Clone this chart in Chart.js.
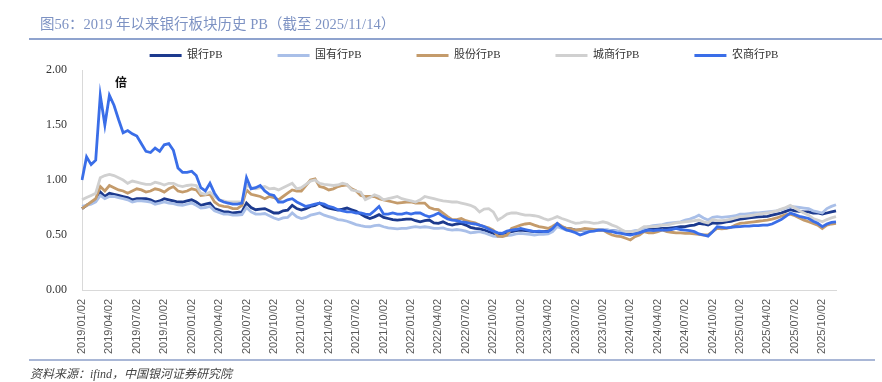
<!DOCTYPE html>
<html>
<head>
<meta charset="utf-8">
<script src="https://cdn.jsdelivr.net/npm/chart.js@4/dist/chart.umd.min.js"></script>
<style>
  html, body { margin: 0; padding: 0; background: #fff; }
  #wrap { position: relative; width: 882px; height: 382px; overflow: hidden; }
  #c { position: absolute; left: 0; top: 0; }
  .title { position: absolute; left: 40px; top: 12px; font-family: "Liberation Serif", "Noto Sans CJK SC", serif; font-size: 14.5px; color: #7D92C3; white-space: nowrap; }
  .rule { position: absolute; left: 29px; height: 2px; background: #8FA3CE; }
  .unit { position: absolute; left: 115px; top: 73px; font-family: "Noto Sans CJK SC", serif; font-weight: bold; font-size: 12px; color: #111; }
  .source { position: absolute; left: 30px; top: 364px; font-family: "Liberation Serif", "Noto Sans CJK SC", serif; font-style: italic; font-size: 12px; color: #444; white-space: nowrap; }
</style>
</head>
<body>
<div id="wrap">
  <canvas id="c" width="882" height="382"></canvas>
  <div class="title">图56：2019 年以来银行板块历史 PB（截至 2025/11/14）</div>
  <div class="rule" style="top:38px; width:853px;"></div>
  <div class="rule" style="top:359px; width:846px; background:#A9B7D6;"></div>
  <div class="unit">倍</div>
  <div class="source">资料来源：ifind，中国银河证券研究院</div>
</div>
<script>
// Categories: half-monthly dates from 2019/01/02 to 2025/11/14
const categories = [];
for (let y = 2019; y <= 2025; y++) {
  for (let m = 1; m <= 12; m++) {
    if (y === 2025 && m > 10) break;
    const mm = String(m).padStart(2, '0');
    categories.push(y + '/' + mm + '/02');
    categories.push(y + '/' + mm + '/16');
  }
}
categories.push('2025/11/02');
categories.push('2025/11/14');

const tickLabels = [
  '2019/01/02','2019/04/02','2019/07/02','2019/10/02',
  '2020/01/02','2020/04/02','2020/07/02','2020/10/02',
  '2021/01/02','2021/04/02','2021/07/02','2021/10/02',
  '2022/01/02','2022/04/02','2022/07/02','2022/10/02',
  '2023/01/02','2023/04/02','2023/07/02','2023/10/02',
  '2024/01/02','2024/04/02','2024/07/02','2024/10/02',
  '2025/01/02','2025/04/02','2025/07/02','2025/10/02'
];

const seriesNames = ['银行PB', '国有行PB', '股份行PB', '城商行PB', '农商行PB'];

const bankPB = [
  0.74, 0.77, 0.79, 0.82, 0.89, 0.85, 0.88, 0.87, 0.86, 0.85,
  0.84, 0.82, 0.83, 0.83, 0.83, 0.82, 0.80, 0.81, 0.83, 0.82,
  0.81, 0.80, 0.80, 0.81, 0.82, 0.80, 0.77, 0.78, 0.79, 0.74,
  0.727, 0.71, 0.71, 0.70, 0.705, 0.71, 0.79, 0.75, 0.73, 0.735,
  0.74, 0.72, 0.70, 0.70, 0.72, 0.725, 0.77, 0.74, 0.727, 0.74,
  0.76, 0.77, 0.79, 0.76, 0.745, 0.735, 0.727, 0.735, 0.745, 0.73,
  0.715, 0.69, 0.667, 0.65, 0.665, 0.685, 0.66, 0.65, 0.64, 0.636,
  0.64, 0.645, 0.645, 0.63, 0.62, 0.63, 0.636, 0.61, 0.606, 0.62,
  0.60, 0.59, 0.60, 0.606, 0.59, 0.57, 0.56, 0.555, 0.545, 0.53,
  0.515, 0.50, 0.505, 0.52, 0.53, 0.54, 0.545, 0.54, 0.535, 0.53,
  0.53, 0.53, 0.535, 0.55, 0.59, 0.57, 0.56, 0.555, 0.545, 0.545,
  0.545, 0.545, 0.545, 0.545, 0.545, 0.545, 0.54, 0.535, 0.53, 0.52,
  0.515, 0.525, 0.53, 0.545, 0.56, 0.55, 0.555, 0.56, 0.56, 0.565,
  0.57, 0.575, 0.576, 0.585, 0.59, 0.606, 0.60, 0.59, 0.61, 0.605,
  0.61, 0.62, 0.625, 0.635, 0.645, 0.65, 0.655, 0.66, 0.665, 0.667,
  0.67, 0.68, 0.69, 0.70, 0.715, 0.73, 0.72, 0.715, 0.71, 0.71,
  0.70, 0.70, 0.69, 0.70, 0.71, 0.72
];

const stateOwnedPB = [
  0.76, 0.77, 0.78, 0.80, 0.86, 0.83, 0.85, 0.85, 0.84, 0.83,
  0.82, 0.80, 0.81, 0.81, 0.805, 0.80, 0.78, 0.79, 0.80, 0.79,
  0.785, 0.775, 0.77, 0.78, 0.79, 0.77, 0.745, 0.75, 0.76, 0.72,
  0.705, 0.69, 0.69, 0.68, 0.68, 0.685, 0.75, 0.71, 0.69, 0.69,
  0.695, 0.675, 0.655, 0.64, 0.655, 0.66, 0.70, 0.665, 0.65, 0.66,
  0.68, 0.69, 0.70, 0.68, 0.667, 0.655, 0.64, 0.635, 0.625, 0.61,
  0.595, 0.585, 0.576, 0.575, 0.585, 0.59, 0.575, 0.565, 0.56, 0.555,
  0.56, 0.56, 0.57, 0.576, 0.57, 0.575, 0.57, 0.56, 0.56, 0.565,
  0.55, 0.545, 0.55, 0.545, 0.535, 0.52, 0.525, 0.53, 0.52, 0.505,
  0.49, 0.485, 0.49, 0.495, 0.50, 0.51, 0.515, 0.51, 0.505, 0.50,
  0.505, 0.505, 0.51, 0.53, 0.576, 0.56, 0.545, 0.545, 0.54, 0.545,
  0.545, 0.545, 0.545, 0.55, 0.545, 0.545, 0.54, 0.535, 0.53, 0.53,
  0.53, 0.54, 0.545, 0.56, 0.576, 0.585, 0.59, 0.595, 0.605, 0.61,
  0.615, 0.62, 0.636, 0.645, 0.66, 0.68, 0.655, 0.636, 0.66, 0.667,
  0.66, 0.665, 0.67, 0.675, 0.69, 0.69, 0.695, 0.70, 0.70, 0.705,
  0.71, 0.715, 0.72, 0.73, 0.745, 0.76, 0.755, 0.75, 0.745, 0.74,
  0.72, 0.71, 0.70, 0.74, 0.76, 0.775
];

const jointStockPB = [
  0.74, 0.77, 0.80, 0.83, 0.94, 0.90, 0.95, 0.93, 0.91, 0.90,
  0.88, 0.90, 0.92, 0.91, 0.89, 0.90, 0.92, 0.91, 0.89, 0.92,
  0.94, 0.90, 0.89, 0.90, 0.92, 0.91, 0.86, 0.865, 0.87, 0.80,
  0.77, 0.76, 0.755, 0.74, 0.74, 0.77, 0.91, 0.87, 0.86, 0.85,
  0.83, 0.85, 0.84, 0.82, 0.85, 0.88, 0.91, 0.90, 0.90, 0.95,
  1.00, 1.01, 0.94, 0.93, 0.91, 0.92, 0.94, 0.95, 0.955, 0.92,
  0.90, 0.86, 0.85, 0.85, 0.85, 0.83, 0.82, 0.81, 0.80, 0.79,
  0.795, 0.80, 0.80, 0.79, 0.79, 0.79, 0.75, 0.735, 0.73, 0.70,
  0.667, 0.64, 0.64, 0.65, 0.63, 0.62, 0.61, 0.59, 0.576, 0.565,
  0.545, 0.49, 0.485, 0.50, 0.56, 0.575, 0.59, 0.60, 0.606, 0.59,
  0.576, 0.57, 0.56, 0.58, 0.606, 0.58, 0.56, 0.555, 0.545, 0.55,
  0.56, 0.555, 0.55, 0.545, 0.545, 0.52, 0.50, 0.49, 0.485, 0.47,
  0.455, 0.485, 0.50, 0.53, 0.52, 0.52, 0.53, 0.545, 0.53, 0.525,
  0.52, 0.52, 0.515, 0.515, 0.51, 0.505, 0.50, 0.50, 0.53, 0.56,
  0.555, 0.56, 0.57, 0.59, 0.606, 0.61, 0.615, 0.62, 0.625, 0.63,
  0.636, 0.645, 0.655, 0.67, 0.685, 0.69, 0.675, 0.655, 0.635, 0.62,
  0.605, 0.59, 0.56, 0.59, 0.60, 0.606
];

const cityPB = [
  0.82, 0.84, 0.86, 0.88, 1.02, 1.04, 1.05, 1.04, 1.02, 1.00,
  0.97, 0.99, 0.98, 0.97, 0.96, 0.96, 0.98, 0.97, 0.955, 0.97,
  0.97, 0.95, 0.94, 0.95, 0.955, 0.95, 0.88, 0.87, 0.89, 0.85,
  0.82, 0.81, 0.80, 0.80, 0.80, 0.80, 0.955, 0.93, 0.92, 0.93,
  0.94, 0.92, 0.925, 0.91, 0.93, 0.95, 0.97, 0.92, 0.93, 0.96,
  0.99, 1.00, 0.97, 0.96, 0.955, 0.95, 0.955, 0.97, 0.96, 0.91,
  0.90, 0.89, 0.82, 0.84, 0.865, 0.85, 0.82, 0.83, 0.84, 0.85,
  0.83, 0.82, 0.81, 0.80, 0.82, 0.85, 0.84, 0.83, 0.82, 0.81,
  0.805, 0.80, 0.80, 0.79, 0.78, 0.77, 0.75, 0.71, 0.735, 0.74,
  0.71, 0.636, 0.66, 0.69, 0.70, 0.70, 0.69, 0.68, 0.68, 0.675,
  0.667, 0.65, 0.636, 0.65, 0.667, 0.65, 0.636, 0.62, 0.606, 0.61,
  0.62, 0.615, 0.606, 0.61, 0.62, 0.61, 0.59, 0.575, 0.55, 0.53,
  0.53, 0.53, 0.55, 0.576, 0.575, 0.576, 0.58, 0.59, 0.59, 0.60,
  0.61, 0.615, 0.62, 0.625, 0.63, 0.636, 0.62, 0.61, 0.64, 0.63,
  0.63, 0.635, 0.645, 0.655, 0.667, 0.67, 0.675, 0.68, 0.69, 0.695,
  0.70, 0.71, 0.72, 0.735, 0.75, 0.77, 0.745, 0.72, 0.70, 0.68,
  0.65, 0.636, 0.62, 0.64, 0.655, 0.667
];

const ruralPB = [
  1.00, 1.21, 1.14, 1.18, 1.77, 1.50, 1.77, 1.68, 1.55, 1.43,
  1.45, 1.42, 1.40, 1.33, 1.26, 1.25, 1.29, 1.26, 1.32, 1.33,
  1.27, 1.11, 1.07, 1.07, 1.08, 1.04, 0.93, 0.90, 0.97, 0.88,
  0.82, 0.80, 0.79, 0.78, 0.78, 0.79, 1.02, 0.92, 0.93, 0.95,
  0.90, 0.87, 0.86, 0.80, 0.80, 0.82, 0.83, 0.80, 0.78, 0.76,
  0.77, 0.78, 0.79, 0.78, 0.76, 0.75, 0.73, 0.72, 0.71, 0.71,
  0.70, 0.70, 0.69, 0.685, 0.72, 0.76, 0.69, 0.69, 0.70, 0.69,
  0.69, 0.70, 0.69, 0.70, 0.70, 0.68, 0.665, 0.68, 0.70, 0.67,
  0.645, 0.635, 0.63, 0.62, 0.615, 0.606, 0.60, 0.59, 0.576, 0.555,
  0.535, 0.52, 0.515, 0.535, 0.545, 0.55, 0.56, 0.55, 0.54, 0.53,
  0.535, 0.53, 0.53, 0.56, 0.606, 0.57, 0.545, 0.535, 0.52, 0.50,
  0.515, 0.53, 0.535, 0.545, 0.545, 0.535, 0.53, 0.52, 0.515, 0.505,
  0.50, 0.51, 0.52, 0.535, 0.545, 0.54, 0.545, 0.545, 0.545, 0.55,
  0.56, 0.55, 0.545, 0.54, 0.53, 0.51, 0.50, 0.49, 0.53, 0.575,
  0.57, 0.565, 0.57, 0.575, 0.576, 0.58, 0.58, 0.585, 0.585, 0.59,
  0.59, 0.60, 0.62, 0.64, 0.67, 0.70, 0.685, 0.67, 0.66, 0.65,
  0.625, 0.606, 0.576, 0.60, 0.615, 0.62
];

const yTicks = [0, 0.5, 1.0, 1.5, 2.0];

const colors = ['#1C3A8E', '#A9BFE8', '#C49B6B', '#D0D0D0', '#3A6EE8'];
const seriesData = [bankPB, stateOwnedPB, jointStockPB, cityPB, ruralPB];
const drawOrder = [5, 4, 3, 2, 1];

const datasets = seriesNames.map((name, k) => ({
  label: name,
  data: seriesData[k],
  borderColor: colors[k],
  backgroundColor: colors[k],
  borderWidth: 2.8,
  pointRadius: 0,
  pointHoverRadius: 0,
  tension: 0,
  order: drawOrder[k]
}));

const layoutTweak = {
  id: 'layoutTweak',
  beforeInit(chart) {
    const origFit = chart.legend.fit;
    chart.legend.fit = function () {
      origFit.bind(chart.legend)();
      this.height = 70;
    };
  },
  afterLayout(chart) {
    const lg = chart.legend;
    const dx = 46, dy = -5;
    lg.left += dx; lg.right += dx;
    lg.top += dy; lg.bottom += dy;
  }
};

new Chart(document.getElementById('c'), {
  type: 'line',
  data: { labels: categories, datasets },
  options: {
    responsive: false,
    devicePixelRatio: 1,
    animation: false,
    layout: { padding: { left: 0, right: 46, top: 0, bottom: 0 } },
    plugins: {
      tooltip: { enabled: false },
      legend: {
        display: true,
        position: 'top',
        align: 'center',
        labels: {
          boxWidth: 32,
          boxHeight: 3,
          padding: 55,
          color: '#333',
          font: { family: '"Liberation Serif", "Noto Sans CJK SC", serif', size: 11 },
          sort: (a, b) => a.datasetIndex - b.datasetIndex,
          generateLabels(chart) {
            const items = Chart.defaults.plugins.legend.labels.generateLabels(chart);
            items.forEach(it => { it.lineWidth = 0; it.fillStyle = it.strokeStyle; });
            return items;
          }
        }
      }
    },
    scales: {
      x: {
        type: 'category',
        offset: false,
        grid: { display: false, drawTicks: false },
        border: { display: true, color: '#D9D9D9', width: 1 },
        ticks: {
          autoSkip: false,
          minRotation: 90,
          maxRotation: 90,
          padding: 9,
          color: '#595959',
          font: { family: '"Liberation Sans", Arial, sans-serif', size: 11 },
          callback(value) {
            const l = this.getLabelForValue(value);
            return tickLabels.includes(l) ? l : null;
          }
        },
        afterFit(scale) { scale.height = 92; }
      },
      y: {
        min: 0,
        max: 2,
        grid: { display: false, drawTicks: false },
        border: { display: true, color: '#D9D9D9', width: 1 },
        afterBuildTicks(scale) { scale.ticks = yTicks.map(v => ({ value: v })); },
        ticks: {
          padding: 15,
          color: '#333',
          font: { family: '"Liberation Serif", serif', size: 12 },
          callback: v => Number(v).toFixed(2)
        },
        afterFit(scale) { scale.width = 82; }
      }
    }
  },
  plugins: [layoutTweak]
});
</script>
</body>
</html>
